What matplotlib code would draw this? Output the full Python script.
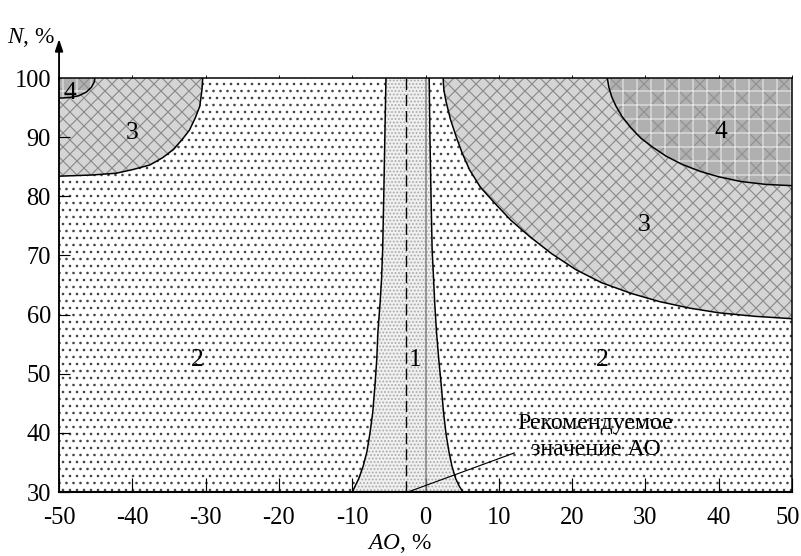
import matplotlib.pyplot as plt
import matplotlib.transforms as mtransforms

plt.rcParams['font.family'] = ['Liberation Serif', 'DejaVu Serif']
plt.rcParams['mathtext.fontset'] = 'custom'
plt.rcParams['mathtext.rm'] = 'Liberation Serif'
plt.rcParams['mathtext.it'] = 'Liberation Serif:italic'
plt.rcParams['hatch.linewidth'] = 1.0

# zone 1 (central band): AO of the left/right border as a function of N
n_band = [30, 31, 32.3, 34.4, 36.8, 39.8, 43.5, 48, 52.5, 57, 62, 66, 71, 80, 90, 100]
ao_band_left = [-10.0, -9.6, -9.1, -8.5, -8.0, -7.6, -7.2, -6.9, -6.65, -6.5,
                -6.2, -6.0, -5.85, -5.7, -5.55, -5.4]
ao_band_right = [5.1, 4.6, 4.1, 3.6, 3.2, 2.8, 2.45, 2.15, 1.8, 1.5,
                 1.25, 1.1, 0.9, 0.75, 0.6, 0.5]

# zone 3 / zone 4 borders on the right
ao_z3_right = [2.4, 2.5, 2.8, 3.4, 4.2, 5.0, 6.0, 7.5, 9.4, 11.6, 14.2, 17.2,
               20.5, 24.0, 28.0, 31.9, 36.0, 40.0, 45.0, 50.0]
n_z3_right = [100, 98, 96, 93, 90, 87.3, 84.5, 81.5, 78.9, 76.0, 73.2, 70.3,
              67.6, 65.4, 63.6, 62.2, 61.1, 60.3, 59.7, 59.3]
ao_z4_right = [24.8, 25.0, 25.4, 26.0, 26.8, 28.0, 29.4, 31.0, 32.8, 35.0,
               37.5, 40.0, 43.0, 46.5, 50.0]
n_z4_right = [100, 98.5, 96.8, 95.2, 93.5, 91.6, 89.8, 88.3, 86.8, 85.4,
              84.2, 83.3, 82.5, 82.0, 81.8]

# zone 3 / zone 4 borders on the left
ao_z3_left = [-50, -45.5, -42.2, -40.0, -37.6, -35.9, -34.4, -33.2, -32.2,
              -31.4, -30.8, -30.5, -30.4]
n_z3_left = [83.4, 83.6, 83.9, 84.5, 85.3, 86.5, 87.9, 89.6, 91.2,
             93.3, 95.2, 98.0, 100]
ao_z4_left = [-50, -48.5, -47.3, -46.3, -45.6, -45.2, -45.1]
n_z4_left = [96.6, 96.7, 97.0, 97.6, 98.4, 99.3, 100]

ao_recommended = -2.6
leader_ao = [-2.4, 12.1]
leader_n = [30, 36.6]

zone_labels = ['1', '2', '2', '3', '3', '4', '4']
zone_ao = [-1.4, -31.2, 24.1, -40.0, 29.8, 40.3, -48.5]
zone_n = [52.4, 52.4, 52.4, 90.7, 75.2, 90.9, 97.4]

xticks = [-50, -40, -30, -20, -10, 0, 10, 20, 30, 40, 50]
yticks = [30, 40, 50, 60, 70, 80, 90, 100]

fs = 21
dpi = 84
fig = plt.figure(figsize=(801 / dpi, 556 / dpi), dpi=dpi)
ax = fig.add_axes([0.0737, 0.1151, 0.9151, 0.7446])

# zone 2 - everything else, sparse dots
ax.fill_between([-50, 50], 30, 100, facecolor='white', edgecolor='#444444',
                hatch='..', linewidth=0, zorder=0)

# zone 1
ax.fill_betweenx(n_band, ao_band_left, ao_band_right, facecolor='#f0f0f0',
                 edgecolor='#a8a8a8', hatch='....', linewidth=0, zorder=1)

# zone 3
ax.fill_between(ao_z3_right, n_z3_right, 100, facecolor='#d5d5d5',
                edgecolor='#8a8a8a', hatch='xx', linewidth=0, zorder=1)
ax.fill_between(ao_z3_left, n_z3_left, 100, facecolor='#d5d5d5',
                edgecolor='#8a8a8a', hatch='xx', linewidth=0, zorder=1)

# zone 4
for ao_z4, n_z4 in [(ao_z4_right, n_z4_right), (ao_z4_left, n_z4_left)]:
    ax.fill_between(ao_z4, n_z4, 100, facecolor='#b0b0b0',
                    edgecolor='#909090', hatch='x', linewidth=0, zorder=2)
    ax.fill_between(ao_z4, n_z4, 100, facecolor='none',
                    edgecolor='#e6e6e6', hatch='+', linewidth=0, zorder=2)

# borders
ax.plot(ao_band_left, n_band, color='black', lw=1.3, zorder=3)
ax.plot(ao_band_right, n_band, color='black', lw=1.3, zorder=3)
ax.plot(ao_z3_right, n_z3_right, color='black', lw=1.3, zorder=3)
ax.plot(ao_z4_right, n_z4_right, color='black', lw=1.3, zorder=3)
ax.plot(ao_z3_left, n_z3_left, color='black', lw=1.3, zorder=3)
ax.plot(ao_z4_left, n_z4_left, color='black', lw=1.3, zorder=3)

ax.axvline(0, color='#808080', lw=1.3, zorder=3)
ax.axvline(ao_recommended, color='black', lw=1.2, dashes=(8, 3.5), zorder=3)

ax.plot(leader_ao, leader_n, color='black', lw=1.0, zorder=3)
ax.text(23.2, 39.4, 'Рекомендуемое\nзначение АО', ha='center', va='center',
        fontsize=fs - 0.5, linespacing=1.35, zorder=4)

for lab, xa, ya in zip(zone_labels, zone_ao, zone_n):
    ax.text(xa, ya, lab, ha='center', va='center', fontsize=fs + 1, zorder=4)

ax.set_xlim(-50, 50)
ax.set_ylim(30, 100)
ax.set_xticks(xticks, labels=[str(v) for v in xticks])
ax.set_yticks(yticks, labels=[str(v) for v in yticks])
ax.tick_params(axis='x', direction='in', length=12, width=1.0, pad=13, labelsize=fs)
ax.tick_params(axis='y', direction='in', length=9, width=1.0, pad=7, labelsize=fs)
for t in ax.get_xticklines() + ax.get_yticklines():
    t.set_zorder(5)

# last x label sits a bit left, as in the original, so it stays in the frame
last = ax.get_xticklabels()[-1]
last.set_transform(last.get_transform() +
                   mtransforms.ScaledTranslation(-4 / 72, 0, fig.dpi_scale_trans))

# tiny outward marks on the top frame
ax.plot(xticks, [100] * len(xticks), ls='', marker=2, ms=2.5, mew=0.8,
        color='black', clip_on=False, zorder=5)

ax.spines['left'].set_linewidth(1.6)
ax.spines['bottom'].set_linewidth(1.8)
ax.spines['top'].set_linewidth(1.3)
ax.spines['right'].set_linewidth(1.3)
for s in ax.spines.values():
    s.set_zorder(6)

# arrow on N axis
ax.annotate('', xy=(-50, 106.6), xytext=(-50, 99.8),
            arrowprops=dict(arrowstyle='-|>,head_length=0.6,head_width=0.2',
                            color='black', lw=1.6, mutation_scale=14,
                            shrinkA=0, shrinkB=0),
            annotation_clip=False)

ax.text(-0.006, 1.097, '$N$, %', transform=ax.transAxes, ha='right',
        va='center', fontsize=fs - 1)
ax.text(0.464, -0.125, '$AO$, %', transform=ax.transAxes, ha='center',
        va='center', fontsize=fs - 1)

fig.savefig('out.png', dpi=dpi)
